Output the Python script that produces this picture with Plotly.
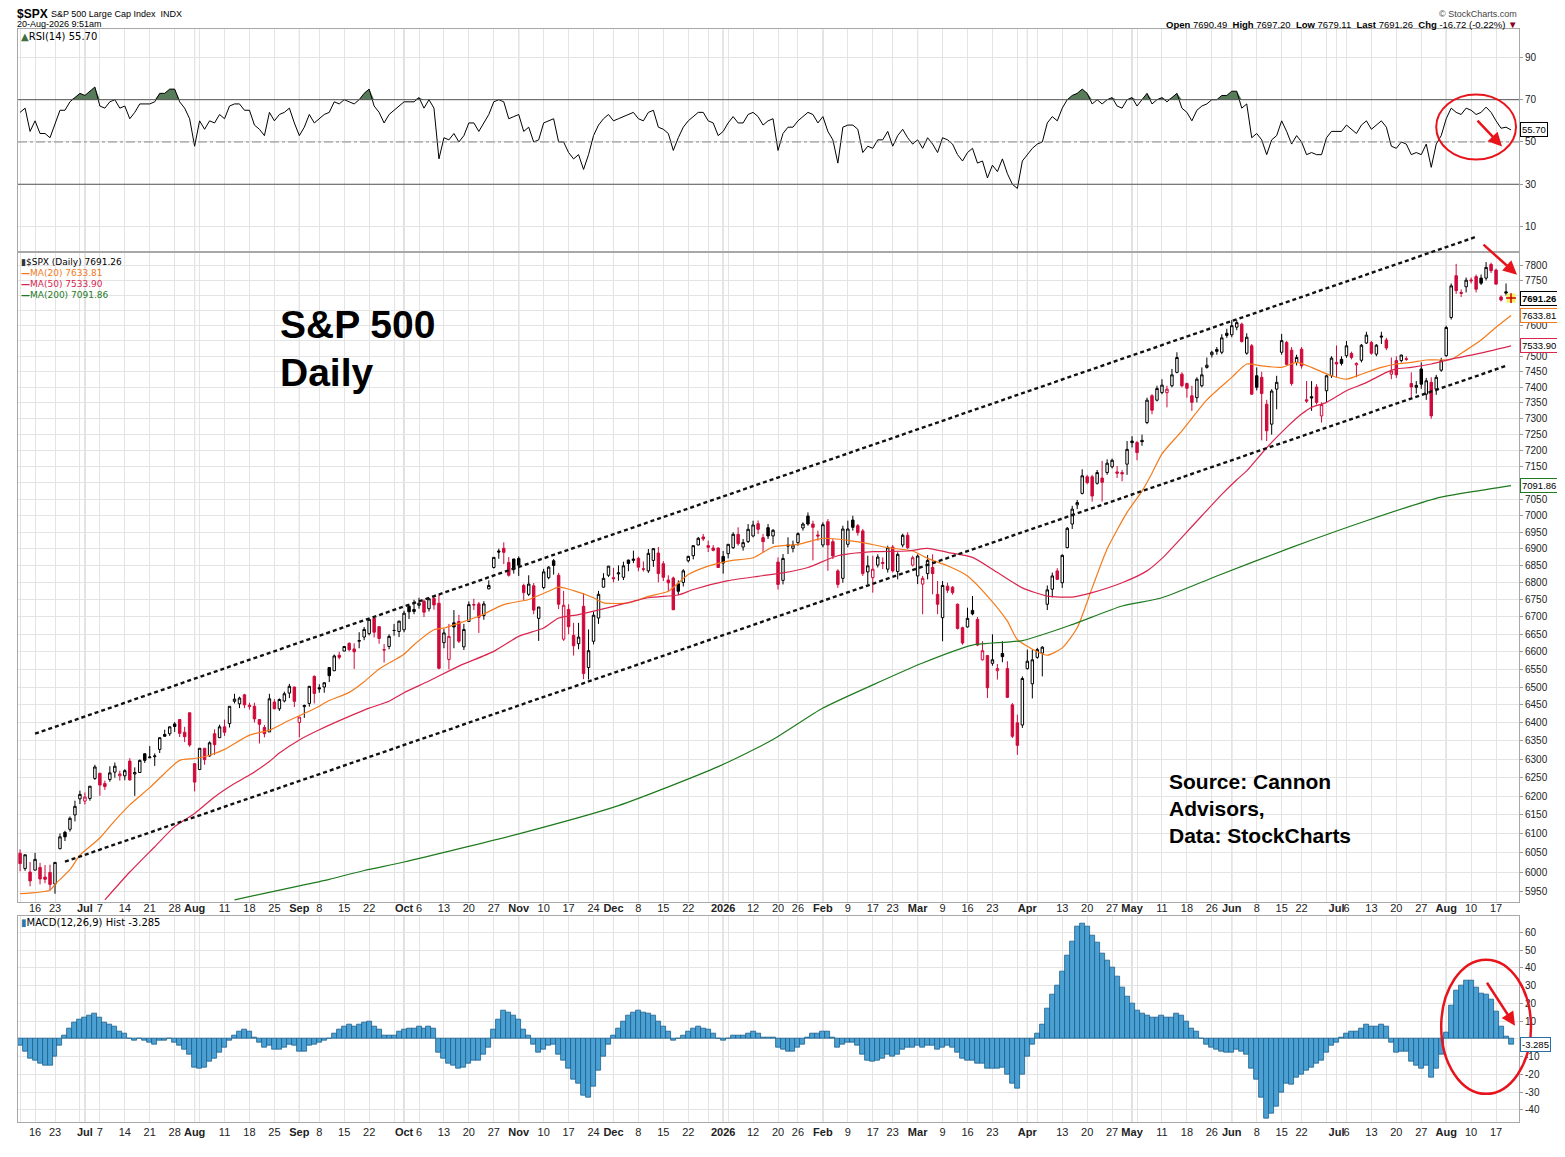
import numpy as np
import pandas as pd
import plotly.graph_objects as go
from plotly.subplots import make_subplots

# ---- trading calendar (NYSE holidays inside the window) ----
holidays = ["2025-06-19", "2025-07-04", "2025-09-01", "2025-11-27", "2025-12-25",
            "2026-01-01", "2026-01-19", "2026-02-16", "2026-04-03", "2026-05-25",
            "2026-06-19", "2026-07-03"]
days = [d.strftime("%Y-%m-%d") for d in pd.bdate_range("2025-06-11", "2026-08-20")]
days = [d for d in days if d not in holidays]

# ---- $SPX daily candles ----
opens = [6049, 6009, 6000, 6005, 6012, 5987, 5999, 5969, 6061, 6104,
         6112, 6150, 6193, 6187, 6194, 6248, 6262, 6234, 6245, 6265,
         6255, 6255, 6295, 6260, 6264, 6315, 6304, 6307, 6327, 6368,
         6370, 6397, 6409, 6374, 6428, 6288, 6272, 6330, 6309, 6370,
         6359, 6389, 6398, 6460, 6453, 6478, 6445, 6446, 6409, 6387,
         6375, 6458, 6439, 6461, 6483, 6500, 6401, 6445, 6454, 6530,
         6498, 6500, 6555, 6546, 6590, 6602, 6624, 6608, 6630, 6642,
         6652, 6696, 6672, 6606, 6615, 6661, 6658, 6663, 6731, 6722,
         6734, 6746, 6724, 6754, 6740, 6626, 6578, 6683, 6687, 6614,
         6687, 6736, 6738, 6704, 6782, 6845, 6894, 6902, 6860, 6870,
         6872, 6792, 6766, 6791, 6696, 6786, 6815, 6865, 6822, 6636,
         6722, 6647, 6623, 6731, 6555, 6630, 6697, 6787, 6822, 6815,
         6826, 6816, 6867, 6866, 6872, 6841, 6835, 6866, 6888, 6856,
         6808, 6814, 6797, 6801, 6865, 6880, 6912, 6936, 6910, 6903,
         6903, 6878, 6886, 6904, 6944, 6906, 6922, 6939, 6976, 6934,
         6964, 6939, 6861, 6807, 6912, 6902, 6919, 6963, 6999, 6975,
         6942, 6912, 6982, 6922, 6835, 6813, 6914, 6987, 6970, 6954,
         6832, 6815, 6852, 6860, 6840, 6906, 6833, 6912, 6941, 6852,
         6820, 6796, 6827, 6845, 6766, 6698, 6790, 6787, 6737, 6669,
         6671, 6719, 6693, 6577, 6589, 6567, 6546, 6595, 6552, 6450,
         6400, 6394, 6552, 6509, 6584, 6596, 6737, 6781, 6835, 6800,
         6904, 6975, 7033, 7068, 7119, 7119, 7099, 7115, 7132, 7150,
         7134, 7132, 7158, 7230, 7225, 7232, 7288, 7373, 7359, 7383,
         7383, 7405, 7448, 7442, 7412, 7373, 7367, 7405, 7464, 7505,
         7522, 7513, 7575, 7570, 7595, 7605, 7510, 7534, 7437, 7432,
         7346, 7283, 7394, 7513, 7545, 7520, 7480, 7523, 7360, 7370,
         7401, 7309, 7389, 7437, 7480, 7490, 7502, 7509, 7472, 7487,
         7543, 7545, 7507, 7566, 7553, 7442, 7486, 7486, 7492, 7412,
         7400, 7459, 7378, 7416, 7394, 7455, 7502, 7627, 7766, 7710,
         7729, 7752, 7763, 7758, 7758, 7804, 7785, 7695, 7712, 7690.49]
highs = [6059, 6045, 6026, 6050, 6024, 6018, 6019, 6026, 6101, 6108,
         6146, 6188, 6215, 6210, 6227, 6285, 6263, 6242, 6281, 6291,
         6269, 6273, 6303, 6278, 6299, 6316, 6336, 6316, 6360, 6381,
         6390, 6402, 6410, 6389, 6428, 6289, 6330, 6330, 6349, 6382,
         6395, 6409, 6446, 6481, 6473, 6481, 6456, 6456, 6410, 6394,
         6481, 6466, 6468, 6487, 6509, 6501, 6416, 6451, 6503, 6533,
         6508, 6513, 6555, 6592, 6600, 6616, 6627, 6624, 6656, 6671,
         6695, 6697, 6673, 6622, 6650, 6680, 6689, 6718, 6733, 6750,
         6756, 6751, 6755, 6758, 6765, 6665, 6680, 6720, 6706, 6680,
         6745, 6753, 6744, 6746, 6807, 6875, 6901, 6920, 6876, 6871,
         6878, 6797, 6822, 6799, 6729, 6841, 6849, 6870, 6829, 6776,
         6737, 6683, 6683, 6770, 6664, 6715, 6776, 6828, 6849, 6844,
         6851, 6862, 6868, 6895, 6877, 6863, 6900, 6903, 6906, 6864,
         6822, 6818, 6807, 6840, 6880, 6910, 6936, 6945, 6925, 6912,
         6904, 6894, 6915, 6950, 6965, 6930, 6975, 6985, 6986, 6945,
         6975, 6960, 6875, 6885, 6935, 6925, 6950, 6980, 7010, 6985,
         6955, 6980, 6990, 6930, 6840, 6970, 6985, 7000, 6975, 6960,
         6880, 6880, 6884, 6875, 6910, 6912, 6890, 6946, 6950, 6880,
         6884, 6820, 6882, 6884, 6805, 6805, 6800, 6790, 6739, 6672,
         6727, 6761, 6700, 6630, 6591, 6650, 6565, 6630, 6573, 6455,
         6423, 6530, 6606, 6606, 6611, 6616, 6792, 6830, 6843, 6884,
         6966, 7030, 7048, 7142, 7125, 7125, 7140, 7168, 7173, 7175,
         7152, 7140, 7230, 7245, 7230, 7250, 7367, 7378, 7405, 7426,
         7405, 7459, 7513, 7448, 7415, 7405, 7432, 7464, 7496, 7518,
         7530, 7572, 7590, 7618, 7618, 7610, 7575, 7540, 7464, 7450,
         7360, 7394, 7437, 7573, 7550, 7530, 7505, 7530, 7420, 7420,
         7410, 7352, 7440, 7500, 7535, 7500, 7550, 7515, 7480, 7540,
         7580, 7550, 7540, 7580, 7560, 7496, 7500, 7505, 7500, 7448,
         7420, 7480, 7430, 7432, 7440, 7495, 7600, 7740, 7806, 7720,
         7760, 7760, 7770, 7770, 7812, 7810, 7790, 7700, 7740, 7697.20]
lows = [6002, 6003, 5963, 6004, 5968, 5971, 5953, 5944, 6059, 6081,
        6106, 6133, 6179, 6178, 6188, 6244, 6201, 6217, 6239, 6250,
        6242, 6243, 6242, 6201, 6263, 6290, 6303, 6282, 6317, 6361,
        6364, 6375, 6361, 6347, 6334, 6213, 6271, 6285, 6307, 6312,
        6358, 6364, 6387, 6454, 6441, 6441, 6437, 6401, 6343, 6360,
        6375, 6438, 6433, 6457, 6469, 6444, 6360, 6414, 6445, 6454,
        6484, 6484, 6514, 6545, 6578, 6601, 6601, 6551, 6610, 6633,
        6647, 6641, 6623, 6569, 6607, 6646, 6642, 6656, 6694, 6708,
        6724, 6700, 6716, 6721, 6550, 6610, 6550, 6610, 6625, 6605,
        6686, 6720, 6654, 6692, 6781, 6842, 6871, 6855, 6818, 6827,
        6820, 6749, 6761, 6708, 6631, 6781, 6810, 6824, 6723, 6631,
        6650, 6589, 6607, 6522, 6521, 6621, 6680, 6786, 6817, 6801,
        6806, 6808, 6834, 6858, 6834, 6833, 6829, 6847, 6801, 6805,
        6775, 6720, 6764, 6789, 6860, 6869, 6911, 6924, 6891, 6893,
        6844, 6827, 6872, 6900, 6910, 6895, 6918, 6935, 6945, 6890,
        6930, 6915, 6780, 6795, 6885, 6890, 6910, 6955, 6970, 6866,
        6925, 6905, 6835, 6870, 6785, 6800, 6905, 6955, 6940, 6820,
        6796, 6771, 6845, 6840, 6830, 6830, 6810, 6905, 6900, 6848,
        6796, 6708, 6810, 6766, 6708, 6630, 6770, 6765, 6664, 6620,
        6669, 6705, 6616, 6575, 6469, 6560, 6521, 6570, 6469, 6358,
        6312, 6386, 6549, 6468, 6580, 6530, 6720, 6757, 6808, 6785,
        6902, 6960, 7020, 7065, 7096, 7043, 7095, 7043, 7125, 7145,
        7115, 7105, 7125, 7210, 7170, 7215, 7283, 7314, 7355, 7378,
        7336, 7400, 7445, 7400, 7367, 7325, 7352, 7400, 7460, 7496,
        7505, 7507, 7560, 7562, 7585, 7545, 7505, 7376, 7390, 7232,
        7230, 7250, 7330, 7505, 7470, 7405, 7470, 7460, 7350, 7325,
        7345, 7288, 7350, 7430, 7433, 7470, 7495, 7490, 7432, 7480,
        7540, 7505, 7500, 7540, 7520, 7426, 7430, 7480, 7485, 7367,
        7380, 7395, 7360, 7300, 7376, 7450, 7498, 7620, 7705, 7695,
        7710, 7740, 7710, 7735, 7750, 7775, 7735, 7680, 7700, 7679.11]
closes = [6022, 6045, 5977, 6033, 5982, 5981, 5968, 6025, 6092, 6092,
          6141, 6173, 6205, 6198, 6227, 6279, 6230, 6226, 6263, 6281,
          6260, 6269, 6244, 6264, 6297, 6297, 6306, 6309, 6359, 6363,
          6389, 6390, 6371, 6362, 6339, 6238, 6330, 6299, 6345, 6340,
          6389, 6374, 6446, 6466, 6469, 6450, 6449, 6411, 6396, 6370,
          6467, 6439, 6465, 6481, 6502, 6460, 6416, 6448, 6502, 6482,
          6495, 6512, 6532, 6588, 6584, 6615, 6606, 6600, 6632, 6664,
          6693, 6656, 6638, 6605, 6644, 6661, 6688, 6711, 6715, 6716,
          6740, 6714, 6753, 6735, 6553, 6654, 6644, 6671, 6630, 6664,
          6736, 6735, 6699, 6738, 6792, 6875, 6891, 6890, 6822, 6840,
          6852, 6771, 6796, 6720, 6729, 6832, 6846, 6851, 6737, 6734,
          6672, 6617, 6642, 6538, 6603, 6705, 6766, 6813, 6849, 6812,
          6829, 6850, 6857, 6870, 6846, 6840, 6887, 6901, 6827, 6816,
          6800, 6721, 6775, 6835, 6878, 6910, 6932, 6930, 6905, 6896,
          6845, 6858, 6914, 6944, 6916, 6919, 6959, 6972, 6959, 6922,
          6939, 6956, 6795, 6872, 6909, 6912, 6946, 6975, 6975, 6965,
          6939, 6973, 6912, 6879, 6795, 6960, 6960, 6965, 6949, 6827,
          6850, 6840, 6876, 6857, 6904, 6835, 6884, 6941, 6904, 6874,
          6879, 6813, 6866, 6827, 6737, 6792, 6778, 6771, 6667, 6625,
          6696, 6709, 6619, 6603, 6498, 6577, 6552, 6586, 6471, 6363,
          6338, 6524, 6573, 6577, 6606, 6613, 6779, 6820, 6810, 6881,
          6962, 7020, 7040, 7122, 7101, 7060, 7132, 7102, 7161, 7170,
          7130, 7128, 7204, 7225, 7194, 7228, 7359, 7327, 7396, 7407,
          7394, 7440, 7496, 7405, 7397, 7352, 7426, 7440, 7471, 7513,
          7516, 7560, 7568, 7600, 7610, 7548, 7562, 7378, 7400, 7380,
          7262, 7388, 7416, 7551, 7474, 7412, 7496, 7469, 7356, 7366,
          7352, 7345, 7437, 7494, 7475, 7477, 7534, 7496, 7477, 7536,
          7569, 7510, 7536, 7563, 7527, 7452, 7440, 7504, 7490, 7401,
          7406, 7410, 7421, 7309, 7432, 7486, 7594, 7732, 7716, 7707,
          7751, 7749, 7721, 7741, 7794, 7783, 7738, 7685, 7708, 7691.26]

# ---- moving averages, sampled off the chart ----
ma20_dates = ["2025-06-11", "2025-06-20", "2025-06-23", "2025-06-26", "2025-06-30", "2025-07-07",
              "2025-07-10", "2025-07-15", "2025-07-21", "2025-07-24", "2025-07-29", "2025-08-01",
              "2025-08-06", "2025-08-11", "2025-08-18", "2025-08-22", "2025-08-28", "2025-09-05",
              "2025-09-10", "2025-09-16", "2025-09-19", "2025-09-24", "2025-10-01", "2025-10-03",
              "2025-10-09", "2025-10-13", "2025-10-22", "2025-10-29", "2025-11-05", "2025-11-11",
              "2025-11-13", "2025-11-18", "2025-11-24", "2025-11-26", "2025-12-04", "2025-12-10",
              "2025-12-16", "2025-12-22", "2025-12-29", "2026-01-05", "2026-01-12", "2026-01-16",
              "2026-01-26", "2026-02-02", "2026-02-09", "2026-02-12", "2026-02-20", "2026-02-27",
              "2026-03-04", "2026-03-10", "2026-03-16", "2026-03-20", "2026-03-26", "2026-03-30",
              "2026-04-06", "2026-04-08", "2026-04-13", "2026-04-16", "2026-04-21", "2026-04-24",
              "2026-04-30", "2026-05-05", "2026-05-07", "2026-05-11", "2026-05-15", "2026-05-22",
              "2026-06-01", "2026-06-04", "2026-06-09", "2026-06-15", "2026-06-18", "2026-06-24",
              "2026-06-30", "2026-07-06", "2026-07-09", "2026-07-15", "2026-07-20", "2026-07-23",
              "2026-07-28", "2026-08-04", "2026-08-07", "2026-08-12", "2026-08-17", "2026-08-20"]
ma20_vals = [5944, 5953, 5968, 6006, 6044, 6089, 6135, 6177, 6223, 6262, 6297, 6302,
             6311, 6327, 6366, 6380, 6407, 6439, 6462, 6485, 6515, 6551, 6593, 6620,
             6663, 6668, 6702, 6736, 6751, 6775, 6787, 6777, 6756, 6741, 6741, 6760,
             6775, 6824, 6849, 6864, 6874, 6906, 6914, 6932, 6926, 6919, 6904, 6894,
             6872, 6850, 6820, 6761, 6688, 6635, 6600, 6590, 6611, 6669, 6785, 6900,
             7010, 7075, 7130, 7190, 7262, 7360, 7432, 7475, 7469, 7464, 7480, 7464,
             7437, 7426, 7442, 7464, 7475, 7480, 7488, 7490, 7520, 7553, 7595, 7633.81]
ma50_dates = ["2025-07-08", "2025-07-15", "2025-07-22", "2025-07-28", "2025-08-01", "2025-08-07",
              "2025-08-13", "2025-08-18", "2025-08-22", "2025-08-26", "2025-09-02", "2025-09-08",
              "2025-09-16", "2025-09-22", "2025-09-26", "2025-10-01", "2025-10-08", "2025-10-16",
              "2025-10-27", "2025-11-03", "2025-11-10", "2025-11-13", "2025-11-19", "2025-11-28",
              "2025-12-10", "2025-12-18", "2025-12-23", "2026-01-05", "2026-01-13", "2026-01-21",
              "2026-01-28", "2026-02-05", "2026-02-17", "2026-02-26", "2026-03-04", "2026-03-10",
              "2026-03-17", "2026-03-24", "2026-03-31", "2026-04-08", "2026-04-15", "2026-04-21",
              "2026-04-29", "2026-05-06", "2026-05-11", "2026-05-15", "2026-05-21", "2026-05-28",
              "2026-06-02", "2026-06-04", "2026-06-10", "2026-06-16", "2026-06-22", "2026-06-24",
              "2026-06-29", "2026-07-06", "2026-07-10", "2026-07-16", "2026-07-20", "2026-07-23",
              "2026-07-29", "2026-08-04", "2026-08-11", "2026-08-20"]
ma50_vals = [5928, 6000, 6066, 6119, 6154, 6198, 6234, 6257, 6294, 6317, 6353, 6381,
             6418, 6441, 6460, 6484, 6517, 6559, 6601, 6644, 6668, 6697, 6707, 6727,
             6756, 6764, 6780, 6806, 6819, 6829, 6845, 6880, 6892, 6894, 6902, 6890,
             6875, 6830, 6785, 6761, 6758, 6771, 6800, 6835, 6872, 6935, 7000, 7065,
             7110, 7137, 7209, 7273, 7315, 7336, 7352, 7389, 7415, 7448, 7459, 7464,
             7475, 7491, 7507, 7533.90]
ma200_dates = ["2025-08-13", "2025-08-21", "2025-09-02", "2025-09-10", "2025-09-19", "2025-10-01",
               "2025-11-03", "2025-12-02", "2025-12-31", "2026-01-16", "2026-02-02", "2026-02-17",
               "2026-03-03", "2026-03-17", "2026-03-31", "2026-04-15", "2026-04-29", "2026-05-11",
               "2026-05-27", "2026-06-17", "2026-07-10", "2026-07-30", "2026-08-11", "2026-08-20"]
ma200_vals = [5928, 5945, 5964, 5981, 6004, 6026, 6100, 6175, 6280, 6354, 6441, 6506,
              6568, 6619, 6632, 6678, 6732, 6756, 6820, 6905, 6985, 7053, 7075, 7091.86]

# ---- channel lines drawn on the chart (date, price) ----
upper_channel = [("2025-06-16", 6370), ("2026-08-11", 7898)]
lower_channel = [("2025-06-25", 6027), ("2026-08-19", 7469)]

# ---- RSI(14) ----
rsi = [64, 66, 55, 60, 54, 54, 52, 59, 65, 65,
       69, 71, 73, 72, 74, 76, 67, 66, 69, 70,
       66, 67, 61, 64, 68, 68, 68, 69, 73, 73,
       75, 75, 69, 66, 61, 48, 60, 56, 60, 59,
       63, 61, 67, 68, 68, 65, 65, 58, 56, 53,
       64, 60, 63, 64, 66, 59, 53, 57, 63, 59,
       61, 63, 64, 69, 68, 70, 69, 68, 70, 73,
       75, 67, 64, 59, 63, 65, 67, 69, 69, 69,
       71, 66, 70, 66, 42, 52, 51, 54, 50, 53,
       59, 59, 55, 59, 63, 69, 70, 69, 61, 62,
       63, 55, 57, 50, 51, 59, 60, 61, 50, 50,
       45, 42, 44, 37, 44, 53, 58, 61, 63, 60,
       61, 62, 63, 64, 61, 60, 64, 65, 57, 56,
       54, 46, 52, 57, 60, 62, 64, 64, 60, 59,
       53, 55, 59, 62, 59, 59, 63, 64, 62, 58,
       60, 61, 46, 54, 57, 57, 60, 62, 64, 63,
       59, 62, 55, 51, 40, 57, 58, 58, 56, 45,
       48, 47, 51, 51, 55, 48, 53, 56, 52, 49,
       51, 47, 52, 49, 45, 52, 51, 49, 44, 41,
       45, 47, 40, 41, 33, 39, 36, 42, 35, 30,
       28, 41, 44, 47, 49, 50, 59, 62, 60, 66,
       70, 72, 73, 75, 73, 68, 70, 68, 70, 71,
       67, 66, 70, 71, 67, 70, 73, 68, 70, 71,
       69, 71, 73, 66, 64, 60, 65, 67, 68, 70,
       70, 72, 72, 74, 74, 66, 68, 52, 54, 51,
       44, 51, 53, 60, 55, 49, 53, 50, 44, 45,
       44, 44, 52, 55, 55, 55, 58, 56, 54, 58,
       60, 56, 58, 60, 57, 48, 47, 50, 49, 44,
       45, 44, 49, 38, 49, 53, 61, 66, 64, 63,
       66, 65, 63, 64, 66.5, 64, 60, 56.5, 57, 55.70]

# ---- MACD(12,26,9) histogram ----
macd_hist = [-4, -7, -11, -12, -14, -15, -15, -10, -4, 2,
             6, 9, 11, 12, 13, 14, 12, 9, 8, 7,
             4, 3, 0, -1, 0, -1, -2, -3, -1, -1,
             0, -2, -4, -6, -9, -16, -17, -16, -13, -11,
             -8, -5, -1, 2, 4, 5, 4, 1, -2, -5,
             -4, -6, -6, -5, -3, -4, -7, -7, -4, -3,
             -2, -1, 0, 3, 5, 7, 8, 7, 8, 9,
             10, 7, 5, 2, 2, 2, 4, 5, 6, 6,
             7, 6, 7, 6, -8, -11, -14, -15, -17, -16,
             -14, -12, -12, -9, -5, 5, 11, 16, 15, 13,
             11, 5, 2, -3, -8, -6, -4, -3, -9, -12,
             -17, -23, -25, -32, -33, -27, -18, -10, -3, 2,
             6, 10, 13, 15, 16, 15, 14, 13, 10, 7,
             4, -1, 0, 2, 4, 6, 7, 6, 5, 3,
             0, -1, 0, 2, 2, 2, 3, 4, 3, 1,
             1, 1, -5, -6, -7, -7, -5, -3, 1, 3,
             3, 4, 4, 1, -5, -3, -2, -2, -4, -9,
             -12, -13, -12, -11, -9, -10, -9, -6, -5, -5,
             -4, -5, -4, -4, -6, -5, -4, -5, -8, -11,
             -12, -12, -14, -14, -17, -17, -17, -16, -20, -25,
             -28, -20, -10, -3, 3, 8, 17, 25, 30, 38,
             47, 55, 63, 65, 63, 58, 54, 48, 44, 40,
             35, 29, 24, 20, 16, 14, 13, 12, 12, 13,
             12, 12, 14, 13, 10, 6, 4, 0, -3, -5,
             -6, -7, -8, -8, -6, -7, -9, -17, -23, -33,
             -45, -42, -38, -30, -25, -26, -22, -20, -18, -16,
             -14, -12, -8, -4, -2, 1, 3, 4, 4, 6,
             8, 7, 7, 8, 7, -2, -7.8, -7, -7, -13,
             -15.3, -16.5, -15.3, -21.7, -16.5, -9, 3.5, 19, 27.3, 30,
             33, 32.7, 29, 25.7, 25.2, 22, 15.6, 7, 1.2, -3.285]

# ---- date axis labels ----
tick_dates = ["2025-06-16", "2025-06-23", "2025-07-01", "2025-07-07", "2025-07-14", "2025-07-21",
              "2025-07-28", "2025-08-01", "2025-08-11", "2025-08-18", "2025-08-25", "2025-09-02",
              "2025-09-08", "2025-09-15", "2025-09-22", "2025-10-01", "2025-10-06", "2025-10-13",
              "2025-10-20", "2025-10-27", "2025-11-03", "2025-11-10", "2025-11-17", "2025-11-24",
              "2025-12-01", "2025-12-08", "2025-12-15", "2025-12-22", "2026-01-02", "2026-01-12",
              "2026-01-20", "2026-01-26", "2026-02-02", "2026-02-09", "2026-02-17", "2026-02-23",
              "2026-03-02", "2026-03-09", "2026-03-16", "2026-03-23", "2026-04-01", "2026-04-13",
              "2026-04-20", "2026-04-27", "2026-05-01", "2026-05-11", "2026-05-18", "2026-05-26",
              "2026-06-01", "2026-06-08", "2026-06-15", "2026-06-22", "2026-07-01", "2026-07-06",
              "2026-07-13", "2026-07-20", "2026-07-27", "2026-08-03", "2026-08-10", "2026-08-17"]
tick_labels = ["16", "23", "Jul", "7", "14", "21", "28", "Aug", "11", "18", "25", "Sep",
               "8", "15", "22", "Oct", "6", "13", "20", "27", "Nov", "10", "17", "24",
               "Dec", "8", "15", "22", "2026", "12", "20", "26", "Feb", "9", "17", "23",
               "Mar", "9", "16", "23", "Apr", "13", "20", "27", "May", "11", "18", "26",
               "Jun", "8", "15", "22", "Jul", "6", "13", "20", "27", "Aug", "10", "17"]

price_ticks = list(range(5950, 7801, 50))
price_hidden = [7700, 7650, 7550, 7100]   # covered by the value tags

RED = "#cf0a3a"
ORANGE = "#f47b1c"
CRIMSON = "#d8264f"
GREEN = "#1e7a1e"
GRID = "#e4e4e4"
MONTH_GRID = "#b9b9b9"
FONT = "Liberation Sans, Arial, sans-serif"
NARROW = "Liberation Sans Narrow, Arial Narrow, Liberation Sans, sans-serif"

pos = {d: i for i, d in enumerate(days)}
x = list(range(len(days)))

# page has an 8px body margin and the capture is squeezed a little vertically (S)
S = 0.9895
W, H = 1549, 1139
ML, MR, MT = 9, 35, 21
PLOT_BOTTOM = 1120                      # target screen y of the lowest panel edge
MB = int(round(H - (PLOT_BOTTOM / S - 8)))
PW, PH = W - ML - MR, H - MT - MB
XR = [-0.42, 300.6]


def px(xs):
    return (xs - 8 - ML) / PW


def py(ys):
    return (H - MB - (ys / S - 8)) / PH


RSI_DOM = [py(250), py(29)]
MAIN_DOM = [py(900), py(252)]
MACD_DOM = [0, py(914)]
MAIN_RANGE = [np.log10(5923.8), np.log10(7844)]

fig = make_subplots(rows=3, cols=1, shared_xaxes=True, vertical_spacing=0.0)

# RSI panel
fig.add_trace(go.Scatter(x=x, y=[70] * len(x), mode="lines", line=dict(width=0),
                         hoverinfo="skip"), row=1, col=1)
fig.add_trace(go.Scatter(x=x, y=[max(v, 70) for v in rsi], mode="lines", line=dict(width=0),
                         fill="tonexty", fillcolor="#587b5a", hoverinfo="skip"), row=1, col=1)
fig.add_trace(go.Scatter(x=x, y=rsi, mode="lines", line=dict(color="black", width=1)), row=1, col=1)

# candles: black when close >= prior close, red otherwise; hollow when close > open
prev = [opens[0]] + closes[:-1]
up = [c >= p for c, p in zip(closes, prev)]
for flag, col, dfill in [(True, "black", "black"), (False, RED, RED)]:
    idx = [i for i in x if up[i] == flag]
    fig.add_trace(go.Candlestick(
        x=idx, open=[opens[i] for i in idx], high=[highs[i] for i in idx],
        low=[lows[i] for i in idx], close=[closes[i] for i in idx],
        increasing=dict(line=dict(color=col, width=1), fillcolor="white"),
        decreasing=dict(line=dict(color=col, width=1), fillcolor=dfill),
        whiskerwidth=0), row=2, col=1)

for dates, vals, col in [(ma20_dates, ma20_vals, ORANGE), (ma50_dates, ma50_vals, CRIMSON),
                         (ma200_dates, ma200_vals, GREEN)]:
    fig.add_trace(go.Scatter(x=[pos[d] for d in dates], y=vals, mode="lines",
                             line=dict(color=col, width=1.2, shape="spline", smoothing=0.6)),
                  row=2, col=1)

# last-price marker
fig.add_trace(go.Scatter(x=[x[-1]], y=[closes[-1]], mode="markers",
                         marker=dict(symbol="square", size=9, color="#f6ef6a",
                                     line=dict(width=0))), row=2, col=1)
fig.add_trace(go.Scatter(x=[x[-1]], y=[closes[-1]], mode="markers",
                         marker=dict(symbol="cross-thin", size=7,
                                     line=dict(color="#d00000", width=1.5))), row=2, col=1)

# MACD histogram
fig.add_trace(go.Bar(x=x, y=macd_hist, width=1.0,
                     marker=dict(color="#4aa0d3", line=dict(color="#1d5f8c", width=0.8))),
              row=3, col=1)

tickvals = [pos[d] for d in tick_dates]
ticktext = [f"<b>{t}</b>" if not t.isdigit() or t == "2026" else t for t in tick_labels]
week_starts = [i for i in x if i == 0 or pd.Timestamp(days[i]).weekday() <
               pd.Timestamp(days[i - 1]).weekday()]
month_starts = [i for i in x[1:] if days[i][5:7] != days[i - 1][5:7]]

xcommon = dict(range=XR, showgrid=True, gridcolor=GRID, gridwidth=1,
               tickmode="array", tickvals=tickvals, ticktext=ticktext, ticks="", tickangle=0,
               tickfont=dict(family=NARROW, size=11, color="#222"),
               minor=dict(tickmode="array", tickvals=week_starts, showgrid=True,
                          gridcolor=GRID, ticks=""),
               showline=True, mirror=True, linecolor="#a8a8a8", linewidth=1,
               zeroline=False, rangeslider=dict(visible=False))
fig.update_xaxes(**xcommon)
fig.update_xaxes(showticklabels=False, row=1, col=1)
fig.update_xaxes(showticklabels=True, ticklabelstandoff=-4, row=2, col=1)
fig.update_xaxes(showticklabels=True, row=3, col=1)

# MACD panel is a little shorter than the original (bottom strip of the page is unusable)
macd_top, macd_bot = 69.4, -46.8

ycommon = dict(side="right", showgrid=True, gridcolor=GRID, zeroline=False, ticks="outside",
               ticklen=3, tickcolor="#999", showline=True, mirror=True, linecolor="#a8a8a8",
               tickfont=dict(family=FONT, size=10, color="#222"), fixedrange=True)
fig.update_layout(
    yaxis=dict(domain=RSI_DOM, range=[-1.4, 103.3], tickmode="array",
               tickvals=[10, 30, 50, 70, 90], **ycommon),
    yaxis2=dict(domain=MAIN_DOM, type="log", range=MAIN_RANGE, tickmode="array",
                tickvals=price_ticks,
                ticktext=["" if v in price_hidden else str(v) for v in price_ticks], **ycommon),
    yaxis3=dict(domain=MACD_DOM, range=[macd_bot, macd_top], tickmode="array",
                tickvals=list(range(-40, 61, 10)),
                ticktext=["" if v == 0 else str(v) for v in range(-40, 61, 10)], **ycommon),
)


def main_paper(i, price):
    # data point of the price panel -> paper coords (so a line may run past the panel edge)
    xp = (i - XR[0]) / (XR[1] - XR[0])
    yp = MAIN_DOM[0] + (np.log10(price) - MAIN_RANGE[0]) / (MAIN_RANGE[1] - MAIN_RANGE[0]) * \
        (MAIN_DOM[1] - MAIN_DOM[0])
    return xp, yp


shapes = []
for i in month_starts:
    for xr, yr in [("x", "y domain"), ("x2", "y2 domain"), ("x3", "y3 domain")]:
        shapes.append(dict(type="line", xref=xr, yref=yr, x0=i, x1=i, y0=0, y1=1,
                           line=dict(color=MONTH_GRID, width=1), layer="below"))
shapes.append(dict(type="line", xref="x domain", yref="y", x0=0, x1=1, y0=70, y1=70,
                   line=dict(color="#555", width=1)))
shapes.append(dict(type="line", xref="x domain", yref="y", x0=0, x1=1, y0=30, y1=30,
                   line=dict(color="#555", width=1)))
shapes.append(dict(type="line", xref="x domain", yref="y", x0=0, x1=1, y0=50, y1=50,
                   line=dict(color="#888", width=1, dash="dashdot")))
for ch in [upper_channel, lower_channel]:
    (d0, p0), (d1, p1) = ch
    x0, y0 = main_paper(pos[d0], p0)
    x1, y1 = main_paper(pos[d1], p1)
    shapes.append(dict(type="line", xref="paper", yref="paper", x0=x0, y0=y0, x1=x1, y1=y1,
                       line=dict(color="#111", width=2.4, dash="4px,3px")))
# red ellipses
shapes.append(dict(type="circle", xref="paper", yref="paper", x0=px(1439), x1=px(1519),
                   y0=py(159), y1=py(94), line=dict(color="#e8141c", width=2)))
shapes.append(dict(type="circle", xref="paper", yref="paper", x0=px(1444), x1=px(1534),
                   y0=py(1092), y1=py(958), line=dict(color="#e8141c", width=2.5)))

ann = []


def note(text, xs, ys, size=10, color="black", family=FONT, xanchor="left", yanchor="middle"):
    ann.append(dict(text=text, x=px(xs), y=py(ys), xref="paper", yref="paper", showarrow=False,
                    xanchor=xanchor, yanchor=yanchor, align="left",
                    font=dict(size=size, color=color, family=family)))


note("<b>$SPX</b>", 14, 14, size=12)
note("S&P 500 Large Cap Index  INDX", 48, 14, size=9)
note("20-Aug-2026 9:51am", 14, 24, size=9)
note("© StockCharts.com", 1522, 14, size=9, color="#444", xanchor="right")
note("<b>Open</b> 7690.49  <b>High</b> 7697.20  <b>Low</b> 7679.11  <b>Last</b> 7691.26  "
     "<b>Chg</b> -16.72 (-0.22%) <span style='color:#8b0020'>▼</span>", 1522, 24, size=9.5,
     xanchor="right")
note("<span style='color:#3f6f3f'>▲</span>RSI(14) 55.70", 18, 36, size=10, family="DejaVu Sans")
note("<span style='color:#333'>▮</span>$SPX (Daily) 7691.26", 18, 261, size=9, family="DejaVu Sans")
note("<b>—</b>MA(20) 7633.81", 18, 272, size=9, color=ORANGE, family="DejaVu Sans")
note("<b>—</b>MA(50) 7533.90", 18, 283, size=9, color=CRIMSON, family="DejaVu Sans")
note("<b>—</b>MA(200) 7091.86", 18, 294, size=9, color=GREEN, family="DejaVu Sans")
note("<span style='color:#2a78b0'>▮</span>MACD(12,26,9) Hist -3.285", 18, 921, size=10,
     family="DejaVu Sans")
note("<b>S&P 500</b>", 278, 324, size=39)
note("<b>Daily</b>", 278, 372, size=39)
note("<b>Source: Cannon</b>", 1169, 780, size=21)
note("<b>Advisors,</b>", 1169, 807, size=21)
note("<b>Data: StockCharts</b>", 1169, 834, size=21)

# value tags on the right axis
for val, yref, col, bold, txt in [
        (np.log10(7691.26), "y2", "black", True, "7691.26"),
        (np.log10(7633.81), "y2", ORANGE, False, "7633.81"),
        (np.log10(7533.90), "y2", CRIMSON, False, "7533.90"),
        (np.log10(7091.86), "y2", GREEN, False, "7091.86"),
        (55.70, "y", "black", False, "55.70"),
        (-3.285, "y3", "#2a6fa8", False, "-3.285")]:
    ann.append(dict(text=f"<b>{txt}</b>" if bold else txt, x=1, xref="paper", y=val, yref=yref,
                    xanchor="left", xshift=1, showarrow=False, bgcolor="white",
                    bordercolor=col, borderwidth=1, borderpad=1,
                    font=dict(size=9.5, family=FONT, color="black")))

# red arrows: (tail x, tail y, head x, head y) in screen pixels
for tx, ty, hx, hy in [(1485, 243, 1520, 274), (1479, 119, 1505, 146), (1489, 980, 1518, 1024)]:
    ann.append(dict(text="", x=px(hx), y=py(hy), xref="paper", yref="paper", showarrow=True,
                    ax=tx - hx, ay=(ty - hy) / S, arrowhead=2, arrowsize=1.1, arrowwidth=2.5,
                    arrowcolor="#e8141c"))

fig.update_layout(width=W, height=H, margin=dict(l=ML, r=MR, t=MT, b=MB),
                  paper_bgcolor="white", plot_bgcolor="white", showlegend=False,
                  bargap=0, shapes=shapes, annotations=ann, hovermode=False)

fig.write_html("out.html")
